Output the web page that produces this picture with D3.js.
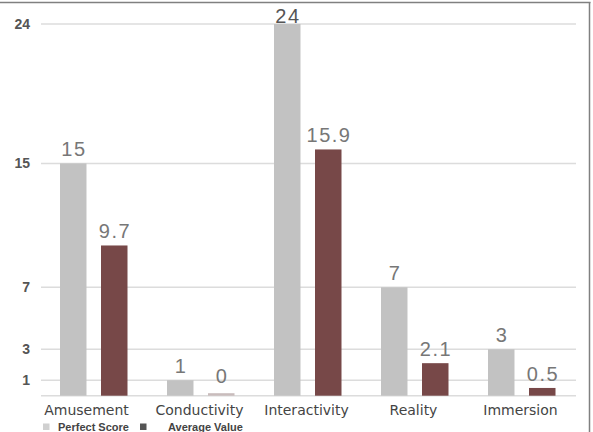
<!DOCTYPE html>
<html>
<head>
<meta charset="utf-8">
<script src="https://cdn.jsdelivr.net/npm/d3@7"></script>
<style>
  body { margin: 0; background: #fff; }
  svg { display: block; }
</style>
</head>
<body>
<div class="chart"></div>
<script>

var categories = ["Amusement", "Conductivity", "Interactivity", "Reality", "Immersion"];
var series = ["Perfect Score", "Average Value"];
var perfectScore = [15, 1, 24, 7, 3];
var averageValue = [9.7, 0, 15.9, 2.1, 0.5];
var valueLabels = [["15", "1", "24", "7", "3"], ["9.7", "0", "15.9", "2.1", "0.5"]];
var yTicks = [1, 3, 7, 15, 24];

var colors = ["#c2c2c2", "#774848"];

var width = 593, height = 432;

var svg = d3.select(".chart")
  .append("svg")
    .attr("width", width)
    .attr("height", height);

// frame (top + right only)
svg.append("line")
  .attr("x1", 0).attr("x2", 590.5)
  .attr("y1", 2.5).attr("y2", 2.5)
  .attr("stroke", "#808080").attr("stroke-width", 1.5);
svg.append("line")
  .attr("x1", 589.5).attr("x2", 589.5)
  .attr("y1", 2).attr("y2", height)
  .attr("stroke", "#808080").attr("stroke-width", 1.5);

var y = d3.scaleLinear()
  .domain([0, 24])
  .range([395.7, 24]);

var x0 = d3.scaleBand()
  .domain(categories)
  .range([41, 576]);

var x1 = d3.scaleBand()
  .domain(series)
  .range([19, 86.5])
  .paddingInner(0.354);

// grid lines
svg.append("g")
  .selectAll("line")
  .data([0].concat(yTicks))
  .enter()
  .append("line")
    .attr("x1", 41)
    .attr("x2", 576)
    .attr("y1", function(d) { return y(d) })
    .attr("y2", function(d) { return y(d) })
    .attr("stroke", "#dcdcdc")
    .attr("stroke-width", 1.5);

// y axis labels
var yAxis = svg.append("g")
  .attr("transform", "translate(30,0)")
  .call(d3.axisLeft(y).tickValues(yTicks).tickSize(0).tickPadding(0));
yAxis.select(".domain").remove();
yAxis.selectAll("text")
  .attr("font-family", "Liberation Sans, Arial, sans-serif")
  .attr("font-size", 14)
  .attr("font-weight", "bold")
  .attr("fill", "#555");

var data = [];
categories.forEach(function(c, i) {
  data.push({cat: c, s: 0, value: perfectScore[i], label: valueLabels[0][i]});
  data.push({cat: c, s: 1, value: averageValue[i], label: valueLabels[1][i]});
});

// bars
svg.append("g")
  .selectAll("rect")
  .data(data)
  .enter()
  .append("rect")
    .attr("x", function(d) { return x0(d.cat) + x1(series[d.s]) })
    .attr("width", x1.bandwidth())
    .attr("y", function(d) { return d.value > 0 ? y(d.value) : y(0) - 2.5 })
    .attr("height", function(d) { return d.value > 0 ? y(0) - y(d.value) : 2.5 })
    .attr("fill", function(d) { return d.value > 0 ? colors[d.s] : "#c9bcbc" });

// value labels
svg.append("g")
  .selectAll("text")
  .data(data)
  .enter()
  .append("text")
    .attr("x", function(d) { return x0(d.cat) + x1(series[d.s]) + x1.bandwidth() / 2 + 0.75 })
    .attr("y", function(d) {
      var yy = (d.value > 0 ? y(d.value) : y(0) - 6) - 7;
      return Math.max(yy, 23);
    })
    .attr("text-anchor", "middle")
    .attr("font-family", "Liberation Sans, Arial, sans-serif")
    .attr("font-size", 20)
    .attr("letter-spacing", 1.5)
    .attr("fill", function(d) { return d.value == 24 ? "#555" : "#777" })
    .text(function(d) { return d.label });

// category labels
svg.append("g")
  .selectAll("text")
  .data(categories)
  .enter()
  .append("text")
    .attr("x", function(d) { return x0(d) + x0.bandwidth() / 2 - (d == "Amusement" ? 8 : 2) })
    .attr("y", 415)
    .attr("text-anchor", "middle")
    .attr("font-family", "DejaVu Sans, sans-serif")
    .attr("font-size", 14)
    .attr("fill", "#444")
    .text(function(d) { return d });

// legend
var legendX = [43, 140];
var legendColors = ["#d0d0d0", "#555"];
var legend = svg.append("g")
  .selectAll("g")
  .data(series)
  .enter()
  .append("g")
    .attr("transform", function(d, i) { return "translate(" + legendX[i] + ",0)" });
legend.append("rect")
  .attr("x", 0).attr("y", 423.5)
  .attr("width", 6.5).attr("height", 6.5)
  .attr("fill", function(d, i) { return legendColors[i] });
legend.append("text")
  .attr("x", function(d, i) { return i == 0 ? 15 : 28 })
  .attr("y", 430.5)
  .attr("font-family", "Liberation Sans, Arial, sans-serif")
  .attr("font-size", 11)
  .attr("font-weight", "bold")
  .attr("fill", "#444")
  .text(function(d) { return d });

</script>
</body>
</html>
